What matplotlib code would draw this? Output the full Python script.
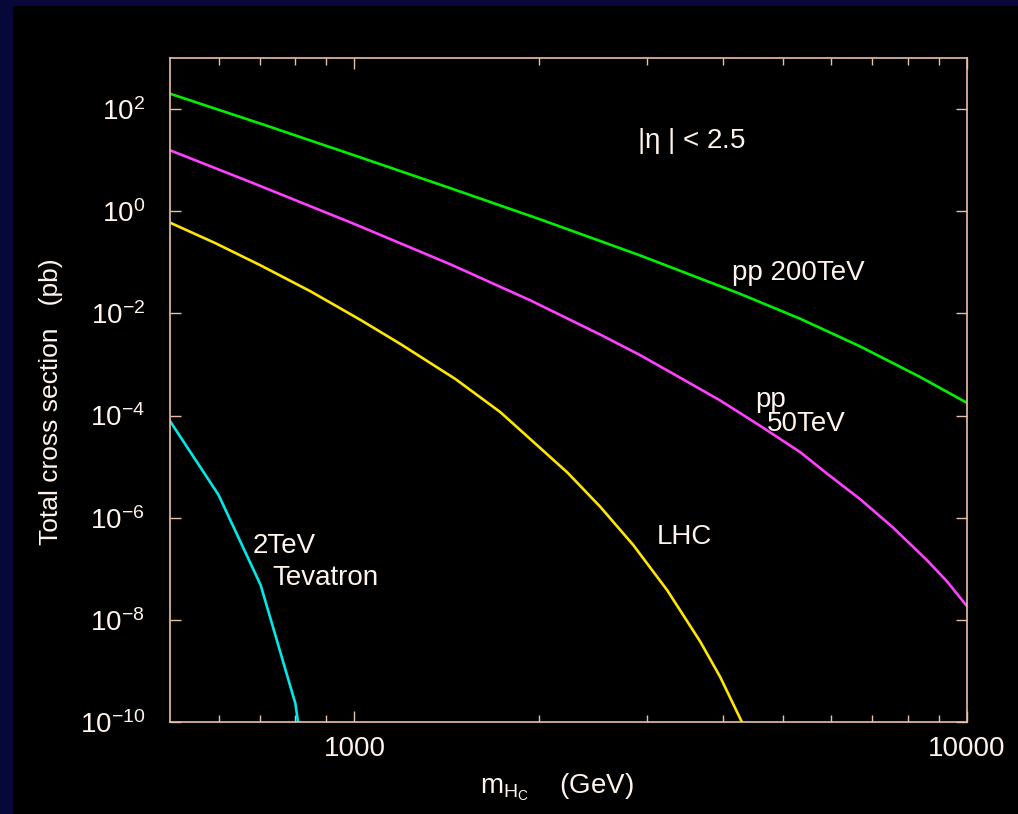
import numpy as np
import matplotlib
matplotlib.use("Agg")
import matplotlib.pyplot as plt
from matplotlib.ticker import FixedLocator, LogFormatterMathtext, NullFormatter, FixedFormatter

plt.rcParams['font.family'] = ['Liberation Sans', 'DejaVu Sans']
plt.rcParams['mathtext.default'] = 'regular'

# charged Higgs mass (GeV) and total cross section (pb)
m_200 = [500, 703, 1000, 1434, 2011, 2928, 4264, 5342, 6691, 8383, 10000]
s_200 = [2.00e2, 5.18e1, 1.24e1, 2.83, 6.92e-1, 1.36e-1, 2.41e-2, 7.85e-3, 2.26e-3, 5.69e-4, 1.77e-4]

m_50 = [500, 676, 1000, 1434, 1937, 2519, 2928, 3402, 3955, 4595, 5342, 5908, 6691, 7574, 8603, 9277, 10000]
s_50 = [1.56e1, 3.74, 5.62e-1, 9.14e-2, 1.80e-2, 3.85e-3, 1.52e-3, 5.5e-4, 1.97e-4, 6.3e-5,
        1.92e-5, 7.3e-6, 2.31e-6, 6.4e-7, 1.47e-7, 5.66e-8, 1.85e-8]

m_lhc = [500, 593, 703, 848, 1023, 1188, 1462, 1730, 2226, 2519, 2852, 3240, 3667, 3955, 4290]
s_lhc = [5.98e-1, 2.37e-1, 8.69e-2, 2.70e-2, 7.46e-3, 2.53e-3, 5.18e-4, 1.17e-4, 7.7e-6,
         1.64e-6, 2.92e-7, 3.81e-8, 3.79e-9, 7.6e-10, 1.0e-10]

m_tev = [500, 600, 703, 801, 809]
s_tev = [7.8e-5, 2.8e-6, 4.8e-8, 2.3e-10, 1.0e-10]

y_ticks = [1e-10, 1e-8, 1e-6, 1e-4, 1e-2, 1e0, 1e2]
x_major = [1000, 10000]
x_major_labels = ['1000', '10000']
x_minor = [600, 700, 800, 900, 2000, 3000, 4000, 5000, 6000, 7000, 8000, 9000]

frame_col = '#e8bfa8'
text_col = '#fff3ec'

fig = plt.figure(figsize=(10.18, 8.14), dpi=100)
fig.patch.set_facecolor('#07073a')
fig.add_artist(plt.Rectangle((13/1018, 0), 1, 1 - 6/814, transform=fig.transFigure,
                             facecolor='black', edgecolor='none', zorder=0))

ax = fig.add_axes([170/1018, 1 - 722/814, 797/1018, 664/814])
ax.set_facecolor('black')

ax.plot(m_200, s_200, color='#00f000', lw=1.9)
ax.plot(m_50, s_50, color='#ff40ff', lw=1.9)
ax.plot(m_lhc, s_lhc, color='#ffe600', lw=1.9)
ax.plot(m_tev, s_tev, color='#00e8e8', lw=1.9)

ax.set_xscale('log')
ax.set_yscale('log')
ax.set_xlim(500, 10000)
ax.set_ylim(1e-10, 1e3)

ax.yaxis.set_major_locator(FixedLocator(y_ticks))
ax.yaxis.set_major_formatter(LogFormatterMathtext())
ax.yaxis.set_minor_locator(FixedLocator([]))
ax.xaxis.set_major_locator(FixedLocator(x_major))
ax.xaxis.set_major_formatter(FixedFormatter(x_major_labels))
ax.xaxis.set_minor_locator(FixedLocator(x_minor))
ax.xaxis.set_minor_formatter(NullFormatter())

for s in ax.spines.values():
    s.set_color(frame_col)
    s.set_linewidth(1.2)
ax.tick_params(which='both', direction='in', top=True, right=True, color=frame_col,
               labelcolor=text_col, labelsize=20, width=1)
ax.tick_params(which='major', length=8)
ax.tick_params(which='minor', length=5)
ax.tick_params(axis='x', pad=10)
ax.tick_params(axis='y', pad=18)

ax.set_ylabel('Total cross section   (pb)', color=text_col, fontsize=19)
ax.yaxis.set_label_coords(-0.134, 0.483)
ax.set_xlabel(r'$m_{H_C}$    (GeV)', color=text_col, fontsize=20)
ax.xaxis.set_label_coords(0.486, -0.074)

kw = dict(transform=ax.transAxes, color=text_col, fontsize=20, ha='left', va='center')
ax.text(0.586, 0.875, r'|$\eta$ | < 2.5', **kw)
ax.text(0.705, 0.676, 'pp 200TeV', **kw)
ax.text(0.734, 0.485, 'pp', **kw)
ax.text(0.749, 0.449, '50TeV', **kw)
ax.text(0.611, 0.279, 'LHC', **kw)
ax.text(0.104, 0.265, '2TeV', **kw)
ax.text(0.128, 0.217, 'Tevatron', **kw)

fig.savefig('out.png', dpi=100, facecolor=fig.get_facecolor())
